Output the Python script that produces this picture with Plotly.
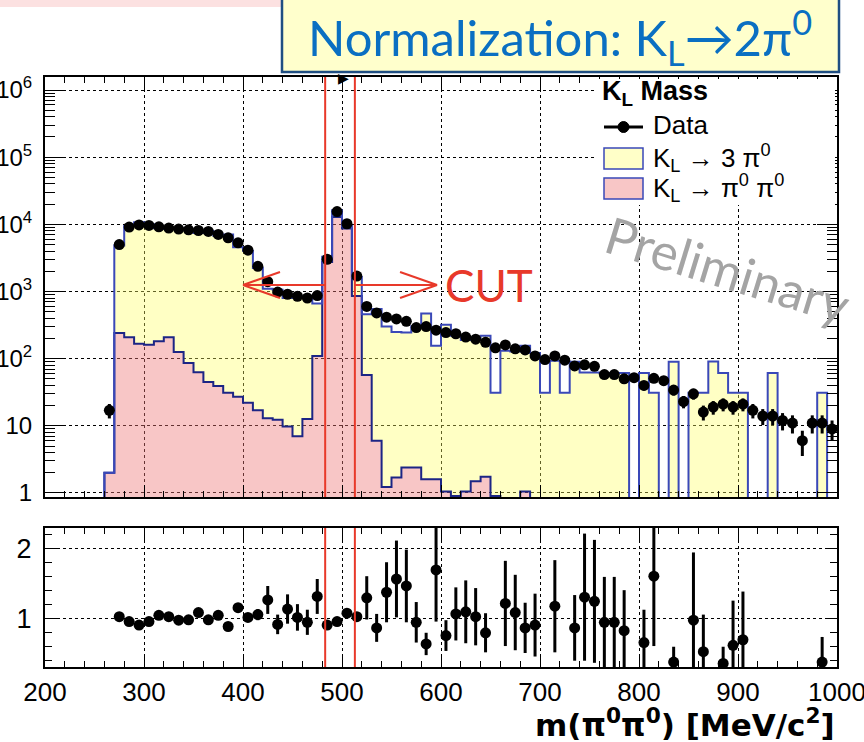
import math
import plotly.graph_objects as go

# ---------------- data ----------------
bin_lo = list(range(260, 1000, 10))          # lower bin edges, 10 MeV bins
bin_width = 10
bin_centers = [b + bin_width / 2 for b in bin_lo]

data_counts = [17, 5000, 9100, 9800, 9650, 9200, 8800, 8500, 8300, 8100,
               7850, 7080, 6300, 5300, 4120, 2370, 1400, 980, 910, 850,
               800, 870, 3020, 15500, 10200, 1700, 600, 480, 415, 390,
               360, 290, 300, 265, 245, 235, 210, 195, 175, 145,
               160, 140, 135, 110, 97, 110, 95, 78, 81, 77,
               58, 58, 50, 52, 40, 51, 47, 34, 23, 30,
               16, 19, 21, 19, 21, 17, 14, 14, 12, 11,
               6, 11, 11, 9]

mc_total = [2, 4850, 9480, 10770, 10050, 8760, 8540, 8670, 8430, 7430,
            7970, 6740, 7080, 4570, 4040, 2240, 1100, 1065, 800, 830,
            840, 660, 3300, 16150, 9440, 1650, 460, 550, 300, 250,
            245, 305, 470, 156, 320, 220, 190, 190, 220, 31,
            131, 128, 155, 121, 31, 93, 31, 90, 62, 62,
            61, 61, 61, 0, 61, 31, 0, 90, 0, 31,
            31, 91, 61, 31, 31, 0, 0, 61, 0, 0,
            0, 0, 31, 0]

mc_pipi = [2.0, 241, 208, 167, 161, 181, 208, 126, 86, 63,
           45, 39, 31, 27, 22, 17, 13, 12.3, 9.8, 7.0,
           12.6, 110, 2750, 12900, 8650, 860, 57, 6.0, 1.23, 1.7,
           2.4, 2.4, 1.6, 1.6, 1.05, 0.9, 1.05, 1.5, 1.75, 0.9,
           0, 0, 1.05, 0, 0, 0, 0, 0, 0, 0,
           0, 0, 0, 0, 0, 0, 0, 0, 0, 0,
           0, 0, 0, 0, 0, 0, 0, 0, 0, 0,
           0, 0, 0, 0]

ratio = [None, 1.03, 0.96, 0.91, 0.96, 1.05, 1.03, 0.98, 0.985, 1.09,
         0.985, 1.05, 0.89, 1.16, 1.02, 1.06, 1.27, 0.92, 1.14, 1.02,
         0.95, 1.32, 0.91, 0.96, 1.08, 1.03, 1.30, 0.87, 1.38, 1.57,
         1.47, 0.95, 0.64, 1.70, 0.76, 1.07, 1.10, 1.03, 0.80, None,
         1.22, 1.09, 0.87, 0.91, None, 1.18, None, 0.87, 1.31, 1.25,
         0.95, 0.95, 0.83, None, 0.66, 1.61, None, 0.38, None, 0.98,
         0.53, None, 0.36, 0.62, 0.70, None, None, None, None, None,
         None, None, 0.38, None]

ratio_err = [0, 0.02, 0.02, 0.02, 0.02, 0.02, 0.02, 0.02, 0.02, 0.03,
             0.03, 0.03, 0.03, 0.04, 0.05, 0.08, 0.20, 0.14, 0.21, 0.19,
             0.18, 0.25, 0.03, 0.02, 0.03, 0.06, 0.31, 0.20, 0.43, 0.55,
             0.52, 0.29, 0.16, 0.74, 0.22, 0.38, 0.45, 0.41, 0.28, 0,
             0.61, 0.54, 0.36, 0.45, 0, 0.66, 0, 0.47, 0.91, 0.88,
             0.65, 0.65, 0.58, 0, 0.47, 1.0, 0, 0.22, 0, 0.97,
             0.53, 0, 0.24, 0.64, 0.69, 0, 0, 0, 0, 0,
             0, 0, 0.36, 0]

cut_lo, cut_hi = 483, 513          # MeV, signal window
y_tickvals = [1, 10, 100, 1e3, 1e4, 1e5, 1e6]
y_ticktext = ["1", "10", "10<sup>2</sup>", "10<sup>3</sup>", "10<sup>4</sup>",
              "10<sup>5</sup>", "10<sup>6</sup>"]

legend_title = "<b>K<sub>L</sub> Mass</b>"
legend_labels = ["Data", "K<sub>L</sub> → 3 π<sup>0</sup>", "K<sub>L</sub> → π<sup>0</sup> π<sup>0</sup>"]

# ---------------- helpers ----------------
FLOOR = 1e-2
edges = bin_lo + [bin_lo[-1] + bin_width]


def step_xy(values):
    xs = [edges[0]]
    ys = [FLOOR]
    for i, v in enumerate(values):
        xs.append(edges[i])
        ys.append(max(v, FLOOR))
    xs.append(edges[-1])
    ys.append(FLOOR)
    return xs, ys


FONT = "Liberation Sans"
PINK_FILL = "rgba(238,120,120,0.42)"
YEL_FILL = "rgba(255,255,100,0.38)"
PINK_LINE = "#1c2585"
YEL_LINE = "#3a48b8"

fig = go.Figure()

# pi0 pi0 (pink) histogram
px_, py_ = step_xy(mc_pipi)
fig.add_trace(go.Scatter(
    x=px_, y=py_, mode="lines", line=dict(shape="hv", color=PINK_LINE, width=2),
    fill="toself", fillcolor=PINK_FILL, name=legend_labels[2],
    xaxis="x", yaxis="y", hoverinfo="skip"))

# total (3 pi0 stacked on top) - yellow, filled between pink and total
tx_, ty_ = step_xy(mc_total)
fig.add_trace(go.Scatter(
    x=tx_, y=ty_, mode="lines", line=dict(shape="hv", color=YEL_LINE, width=2),
    fill="tonexty", fillcolor=YEL_FILL, name=legend_labels[1],
    xaxis="x", yaxis="y", hoverinfo="skip"))

# data points
fig.add_trace(go.Scatter(
    x=bin_centers, y=data_counts, mode="markers", name=legend_labels[0],
    marker=dict(color="black", size=11),
    error_y=dict(type="data", array=[math.sqrt(v) for v in data_counts],
                 color="black", thickness=3, width=0),
    xaxis="x", yaxis="y", hoverinfo="skip"))

# ratio panel
fig.add_trace(go.Scatter(
    x=bin_centers, y=ratio, mode="markers",
    marker=dict(color="black", size=11),
    error_y=dict(type="data", array=ratio_err, color="black", thickness=3, width=0),
    xaxis="x2", yaxis="y2", hoverinfo="skip"))

# ---------------- layout ----------------
W, H = 864, 742
ml, mr, mt, mb = 45, 27, 77, 75
plot_h = H - mt - mb
plot_w = W - ml - mr
top_bottom_px = 497
bot_top_px = 528


def py_paper(py):
    return (H - mb - py) / plot_h


def px_paper(px):
    return (px - ml) / plot_w


axis_common = dict(
    showline=True, linewidth=2, linecolor="black", mirror="ticks",
    ticks="inside", tickcolor="black", showgrid=True, gridcolor="black",
    griddash="dot", gridwidth=1, zeroline=False, automargin=False,
    ticklabeloverflow="allow")

fig.update_layout(
    width=W, height=H, margin=dict(l=ml, r=mr, t=mt, b=mb, autoexpand=False),
    paper_bgcolor="white", plot_bgcolor="white",
    font=dict(family=FONT, color="black"), showlegend=False,
    xaxis=dict(domain=[0, 1], anchor="y", range=[200, 1000], dtick=100, tick0=200,
               ticklen=12, tickwidth=1, showticklabels=False,
               minor=dict(ticks="inside", ticklen=6, dtick=20, tickcolor="black", showgrid=False),
               **axis_common),
    yaxis=dict(domain=[py_paper(top_bottom_px), 1], anchor="x", type="log",
               range=[-0.06, 6.194], tickvals=y_tickvals, ticktext=y_ticktext,
               ticklen=20, tickwidth=1, tickfont=dict(size=24, family=FONT),
               ticklabelstandoff=6,
               minor=dict(ticks="inside", ticklen=10, dtick="D1", tickcolor="black", showgrid=False),
               **axis_common),
    xaxis2=dict(domain=[0, 1], anchor="y2", range=[200, 1000], dtick=100, tick0=200,
                ticklen=12, tickwidth=1, tickfont=dict(size=26, family=FONT),
                ticklabelstandoff=1,
                minor=dict(ticks="inside", ticklen=6, dtick=20, tickcolor="black", showgrid=False),
                **axis_common),
    yaxis2=dict(domain=[0, py_paper(bot_top_px)], anchor="x2", range=[0.31, 2.3],
                tickvals=[1, 2], ticklen=12, tickwidth=1,
                tickfont=dict(size=27, family=FONT), ticklabelstandoff=6,
                minor=dict(ticks="inside", ticklen=7, dtick=0.2, tickcolor="black", showgrid=False),
                **axis_common),
)

shapes = []
red = "#e8392a"
# cut lines on both panels
for c in (cut_lo, cut_hi):
    shapes.append(dict(type="line", xref="x", yref="y domain", x0=c, x1=c, y0=0, y1=1,
                       line=dict(color=red, width=2)))
    shapes.append(dict(type="line", xref="x2", yref="y2 domain", x0=c, x1=c, y0=0, y1=1,
                       line=dict(color=red, width=2)))

# CUT arrows (open V heads)
arrow_y = py_paper(285)
arm_dy = 13 / plot_h
arm_dx = 37 / 0.99
left_tip = cut_lo - 83
right_tip = cut_hi + 83
for x0, x1, sgn in ((cut_lo, left_tip, 1), (cut_hi, right_tip, -1)):
    shapes.append(dict(type="line", xref="x", yref="paper", x0=x0, x1=x1,
                       y0=arrow_y, y1=arrow_y, line=dict(color=red, width=2)))
    for d in (arm_dy, -arm_dy):
        shapes.append(dict(type="line", xref="x", yref="paper", x0=x1, x1=x1 + sgn * arm_dx,
                           y0=arrow_y, y1=arrow_y + d, line=dict(color=red, width=2)))

# faint pink band at top-left
shapes.append(dict(type="rect", xref="paper", yref="paper",
                   x0=px_paper(0), x1=px_paper(282), y0=py_paper(7), y1=py_paper(-2),
                   line=dict(width=0), fillcolor="rgba(245,170,170,0.35)", layer="below"))
# title box
shapes.append(dict(type="rect", xref="paper", yref="paper",
                   x0=px_paper(282), x1=px_paper(839), y0=py_paper(72), y1=py_paper(-3),
                   line=dict(color="#1f4e82", width=2.5), fillcolor="#ffffcc"))

# legend (drawn like the ROOT TLegend)
shapes.append(dict(type="rect", xref="paper", yref="paper", layer="above",
                   x0=px_paper(597), x1=px_paper(835), y0=py_paper(205), y1=py_paper(79),
                   line=dict(width=0), fillcolor="white"))
shapes.append(dict(type="line", xref="paper", yref="paper", layer="above",
                   x0=px_paper(604), x1=px_paper(643), y0=py_paper(127), y1=py_paper(127),
                   line=dict(color="black", width=3)))
shapes.append(dict(type="circle", xref="paper", yref="paper", layer="above",
                   x0=px_paper(618), x1=px_paper(629), y0=py_paper(132.5), y1=py_paper(121.5),
                   line=dict(color="black", width=1), fillcolor="black"))
for (ytop, fc) in ((148, "#ffffc8"), (178, "#f8c6c6")):
    shapes.append(dict(type="rect", xref="paper", yref="paper", layer="above",
                       x0=px_paper(604), x1=px_paper(643), y0=py_paper(ytop + 21), y1=py_paper(ytop),
                       line=dict(color=YEL_LINE, width=1.5), fillcolor=fc))
fig.update_layout(shapes=shapes)

annotations = [
    dict(text="Normalization: K<sub>L</sub>→2π<sup>0</sup>", xref="paper", yref="paper",
         x=px_paper(560), y=py_paper(37), xanchor="center", yanchor="middle",
         showarrow=False, font=dict(family="Lato", size=49, color="#0a6fc2")),
    dict(text="CUT", xref="paper", yref="paper", x=px_paper(489), y=py_paper(285),
         xanchor="center", yanchor="middle", showarrow=False,
         font=dict(family="Lato", size=44, color=red)),
    dict(text="Preliminary", xref="paper", yref="paper", x=px_paper(728), y=py_paper(269),
         xanchor="center", yanchor="middle", showarrow=False, textangle=17,
         font=dict(family="Lato", size=51, color="#a4a4a4")),
    dict(text="<b>m(π<sup>0</sup>π<sup>0</sup>) [MeV/c<sup>2</sup>]</b>", xref="paper", yref="paper",
         x=px_paper(837), y=py_paper(723), xanchor="right", yanchor="middle",
         showarrow=False, font=dict(family="DejaVu Sans", size=31, color="black")),
    dict(text="▶", xref="paper", yref="paper", x=px_paper(343), y=py_paper(78),
         xanchor="center", yanchor="middle", showarrow=False,
         font=dict(size=14, color="black")),
    dict(text=legend_title, xref="paper", yref="paper", x=px_paper(600), y=py_paper(93),
         xanchor="left", yanchor="middle", showarrow=False,
         font=dict(family=FONT, size=27, color="black")),
]
for lbl, yc in zip(legend_labels, (125, 158, 188)):
    annotations.append(dict(text=lbl, xref="paper", yref="paper", x=px_paper(651), y=py_paper(yc),
                            xanchor="left", yanchor="middle", showarrow=False,
                            font=dict(family=FONT, size=26, color="black")))
fig.update_layout(annotations=annotations)

fig.write_html("out.html")
